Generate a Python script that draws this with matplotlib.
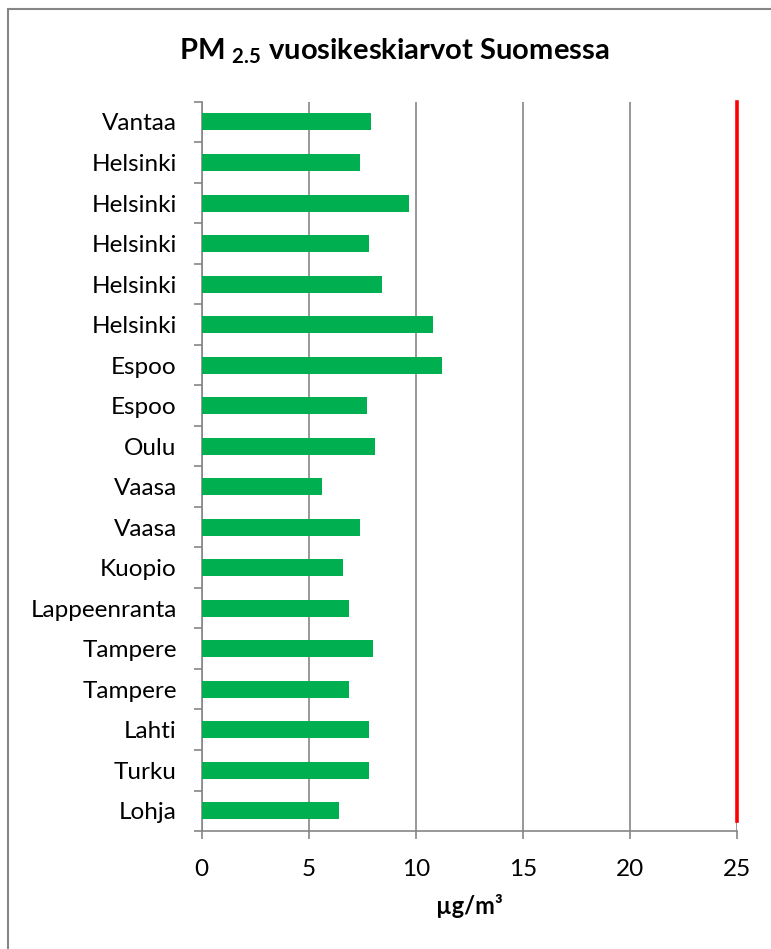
import matplotlib
matplotlib.use('Agg')
import matplotlib.pyplot as plt
from matplotlib.patches import Rectangle

plt.rcParams['font.family'] = ['Lato', 'DejaVu Sans']
plt.rcParams['mathtext.fontset'] = 'custom'
plt.rcParams['mathtext.rm'] = 'Lato:bold'
plt.rcParams['mathtext.it'] = 'Lato:bold'
plt.rcParams['mathtext.bf'] = 'Lato:bold'

# data, top to bottom as in the chart
cities = ['Vantaa', 'Helsinki', 'Helsinki', 'Helsinki', 'Helsinki', 'Helsinki',
          'Espoo', 'Espoo', 'Oulu', 'Vaasa', 'Vaasa', 'Kuopio', 'Lappeenranta',
          'Tampere', 'Tampere', 'Lahti', 'Turku', 'Lohja']
pm25 = [7.9, 7.4, 9.7, 7.8, 8.4, 10.8, 11.2, 7.7, 8.1, 5.6, 7.4, 6.6, 6.9,
        8.0, 6.9, 7.8, 7.8, 6.4]
limit_value = 25
x_ticks = [0, 5, 10, 15, 20, 25]

grey = '#868686'
fig = plt.figure(figsize=(7.71, 9.49), dpi=100)
ax = fig.add_axes([0.2616, 0.1243, 0.9559 - 0.2616, 0.8928 - 0.1243])

pos = list(range(len(cities)))
ax.barh(pos, pm25, height=0.42, color='#00B050', zorder=3)
ax.axvline(limit_value, ymin=0.014, ymax=1, color='#FF0000', lw=2.6,
           zorder=4, clip_on=False)

ax.set_ylim(len(cities) - 0.5, -0.5)
ax.set_xlim(0, 25)
ax.set_yticks(pos)
ax.set_yticklabels(cities, fontsize=17.5)
ax.set_yticks([p - 0.5 for p in pos] + [len(cities) - 0.5], minor=True)
ax.tick_params(axis='y', which='major', length=0, pad=18)
ax.tick_params(axis='y', which='minor', length=6, width=1.2, color=grey)
ax.set_xticks(x_ticks)
ax.set_xticklabels([str(t) for t in x_ticks], fontsize=17.5)
ax.tick_params(axis='x', length=6, width=1.2, color=grey, pad=14)
ax.grid(axis='x', color=grey, lw=1.2, zorder=1)
ax.set_axisbelow(True)
for s in ['top', 'right']:
    ax.spines[s].set_visible(False)
for s in ['left', 'bottom']:
    ax.spines[s].set_color(grey)
    ax.spines[s].set_linewidth(1.2)

ax.set_xlabel('µg/m³', fontsize=17, fontweight='bold', labelpad=10)
fig.text(0.511, 0.946, r'PM $_{2.5}$ vuosikeskiarvot Suomessa', fontsize=21,
         fontweight='bold', ha='center', va='center')

# chart border (right and bottom edges fall outside the picture)
fig.patches.append(Rectangle((8 / 771, -0.05), 1.2, 1 - 9 / 949 + 0.05,
                             transform=fig.transFigure, fill=False,
                             edgecolor=grey, lw=1.5))

fig.savefig('out.png', dpi=100)
